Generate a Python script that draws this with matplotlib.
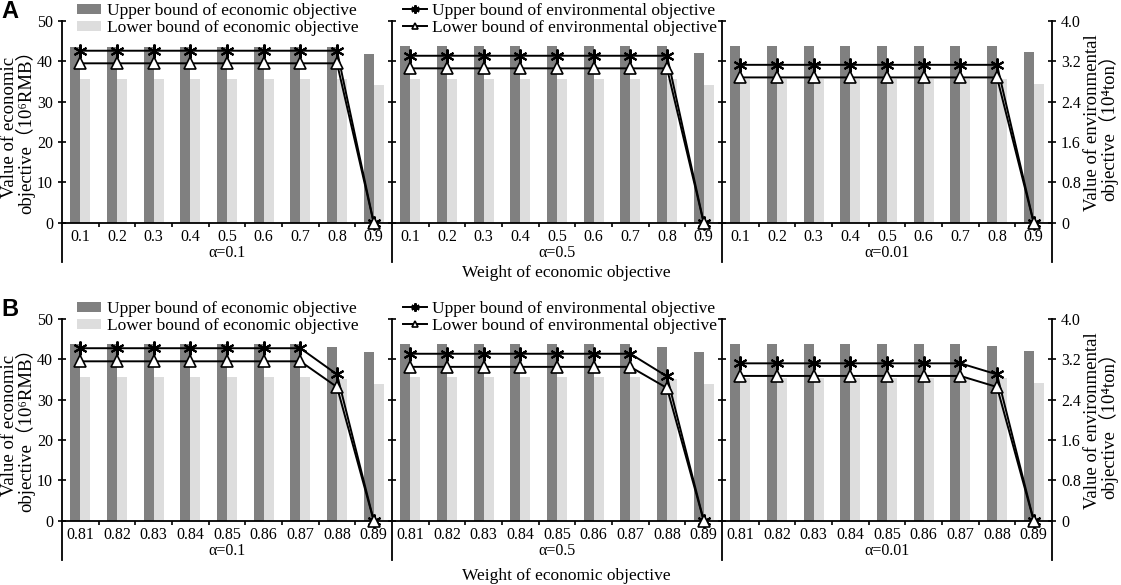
import numpy as np
import matplotlib
matplotlib.use("Agg")
import matplotlib.pyplot as plt
from matplotlib.ticker import FixedLocator

plt.rcParams['font.family'] = ['Liberation Serif', 'DejaVu Serif', 'Noto Sans CJK SC']

weights_A = ['0.1', '0.2', '0.3', '0.4', '0.5', '0.6', '0.7', '0.8', '0.9']
weights_B = ['0.81', '0.82', '0.83', '0.84', '0.85', '0.86', '0.87', '0.88', '0.89']
alphas = ['α=0.1', 'α=0.5', 'α=0.01']

# economic objective (10^6 RMB), left axis
econ_up_A = [
    [43.6, 43.6, 43.6, 43.6, 43.6, 43.6, 43.6, 43.6, 41.9],
    [43.7, 43.7, 43.7, 43.7, 43.7, 43.7, 43.7, 43.7, 42.0],
    [43.8, 43.8, 43.8, 43.8, 43.8, 43.8, 43.8, 43.8, 42.4],
]
econ_lo_A = [
    [35.6, 35.6, 35.6, 35.6, 35.6, 35.6, 35.6, 35.6, 34.0],
    [35.6, 35.6, 35.6, 35.6, 35.6, 35.6, 35.6, 35.6, 34.0],
    [35.5, 35.5, 35.5, 35.5, 35.5, 35.5, 35.5, 35.5, 34.3],
]
# environmental objective (10^4 ton), right axis
env_up_A = [
    [3.41, 3.41, 3.41, 3.41, 3.41, 3.41, 3.41, 3.41, 0.0],
    [3.31, 3.31, 3.31, 3.31, 3.31, 3.31, 3.31, 3.31, 0.0],
    [3.13, 3.13, 3.13, 3.13, 3.13, 3.13, 3.13, 3.13, 0.0],
]
env_lo_A = [
    [3.16, 3.16, 3.16, 3.16, 3.16, 3.16, 3.16, 3.16, 0.0],
    [3.06, 3.06, 3.06, 3.06, 3.06, 3.06, 3.06, 3.06, 0.0],
    [2.88, 2.88, 2.88, 2.88, 2.88, 2.88, 2.88, 2.88, 0.0],
]

econ_up_B = [
    [43.7, 43.7, 43.7, 43.7, 43.7, 43.7, 43.7, 43.1, 41.9],
    [43.7, 43.7, 43.7, 43.7, 43.7, 43.7, 43.7, 43.1, 41.8],
    [43.8, 43.8, 43.8, 43.8, 43.8, 43.8, 43.8, 43.4, 42.1],
]
econ_lo_B = [
    [35.6, 35.6, 35.6, 35.6, 35.6, 35.6, 35.6, 35.0, 33.9],
    [35.5, 35.5, 35.5, 35.5, 35.5, 35.5, 35.5, 35.0, 33.9],
    [35.4, 35.4, 35.4, 35.4, 35.4, 35.4, 35.4, 35.3, 34.0],
]
env_up_B = [
    [3.42, 3.42, 3.42, 3.42, 3.42, 3.42, 3.42, 2.90, 0.0],
    [3.31, 3.31, 3.31, 3.31, 3.31, 3.31, 3.31, 2.86, 0.0],
    [3.12, 3.12, 3.12, 3.12, 3.12, 3.12, 3.12, 2.90, 0.0],
]
env_lo_B = [
    [3.16, 3.16, 3.16, 3.16, 3.16, 3.16, 3.16, 2.65, 0.0],
    [3.05, 3.05, 3.05, 3.05, 3.05, 3.05, 3.05, 2.63, 0.0],
    [2.87, 2.87, 2.87, 2.87, 2.87, 2.87, 2.87, 2.65, 0.0],
]

econ_ticks = [0, 10, 20, 30, 40, 50]
env_ticks = [0, 0.8, 1.6, 2.4, 3.2, 4.0]
env_ticklabels = ['0', '0.8', '1.6', '2.4', '3.2', '4.0']

DARK = '#808080'
LIGHT = '#dddddd'
W, H = 1121, 585
fig = plt.figure(figsize=(W / 100, H / 100), dpi=100)

x_left, panel_w = 62, 330
bw = 0.27
ymin = -9.8


def draw_row(top_px, bottom_px, labels, eu, el, vu, vl, tag):
    axes = []
    for k in range(3):
        ax = fig.add_axes([(x_left + k * panel_w) / W, 1 - bottom_px / H,
                           panel_w / W, (bottom_px - top_px) / H])
        tw = ax.twinx()
        x = np.arange(len(labels))
        ax.bar(x - bw / 2, eu[k], bw, color=DARK, label='Upper bound of economic objective')
        ax.bar(x + bw / 2, el[k], bw, color=LIGHT, label='Lower bound of economic objective')
        tw.plot(x, vu[k], color='black', lw=1.4, marker=(6, 2, 0), ms=10, mew=1.5,
                label='Upper bound of environmental objective')
        tw.plot(x, vl[k], color='black', lw=1.4, marker='^', ms=8, mfc='white', mec='black',
                mew=1.2, label='Lower bound of environmental objective')
        ax.set_xlim(-0.5, len(labels) - 0.5)
        ax.set_ylim(ymin, 50)
        tw.set_ylim(ymin / 50 * 4.0, 4.0)
        for s in ['top', 'right']:
            ax.spines[s].set_visible(False)
        ax.spines['bottom'].set_position(('data', 0))
        ax.spines['left'].set_linewidth(1.3)
        ax.spines['bottom'].set_linewidth(1.3)
        ax.set_yticks(econ_ticks)
        ax.tick_params(axis='y', direction='inout', length=6, width=1.2, labelsize=11.5)
        if k > 0:
            ax.set_yticklabels([])
        ax.set_xticks(x)
        ax.set_xticklabels(labels)
        ax.xaxis.set_minor_locator(FixedLocator(x[:-1] + 0.5))
        ax.tick_params(axis='x', which='major', length=0, labelsize=11.5, pad=5)
        ax.tick_params(axis='x', which='minor', direction='out', length=3, width=1.2)
        ax.set_xlabel(alphas[k], fontsize=11.5, labelpad=0)
        for s in ['top', 'left', 'bottom']:
            tw.spines[s].set_visible(False)
        if k < 2:
            tw.spines['right'].set_visible(False)
            tw.set_yticks([])
        else:
            tw.spines['right'].set_linewidth(1.3)
            tw.set_yticks(env_ticks)
            tw.set_yticklabels(env_ticklabels)
            tw.tick_params(axis='y', direction='inout', length=6, width=1.2, labelsize=11.5)
        axes.append((ax, tw))

    shift = top_px - 21
    fig.text(18 / W, 1 - (127 + shift) / H, 'Value of economic\nobjective（10⁶RMB）',
             rotation=90, ha='center', va='center', multialignment='center',
             fontsize=13.5, linespacing=0.82)
    fig.text(1101 / W, 1 - (123 + shift) / H, 'Value of environmental\nobjective（10⁴ton）',
             rotation=90, ha='center', va='center', multialignment='center',
             fontsize=13.5, linespacing=0.82)

    a0 = axes[0][0]
    fig.legend(handles=a0.get_legend_handles_labels()[0], loc='upper left',
               bbox_to_anchor=(77 / W, 1 - (shift + 3) / H), frameon=False,
               fontsize=12.5, borderpad=0, borderaxespad=0, labelspacing=0.05,
               handlelength=1.4, handleheight=0.5, handletextpad=0.35)
    t0 = axes[0][1]
    fig.legend(handles=t0.get_legend_handles_labels()[0], loc='upper left',
               bbox_to_anchor=(403 / W, 1 - (shift + 3) / H), frameon=False,
               fontsize=12.5, borderpad=0, borderaxespad=0, labelspacing=0.05,
               handlelength=1.4, handletextpad=0.25, markerscale=0.6)
    fig.text(1 / W, 1 - (shift + 12) / H, tag, fontsize=17, fontweight='bold',
             family='Liberation Sans', va='center', ha='left')


draw_row(21, 262, weights_A, econ_up_A, econ_lo_A, env_up_A, env_lo_A, 'A')
fig.text(566 / W, 1 - 273 / H, 'Weight of economic objective', fontsize=12.5,
         ha='center', va='center')
draw_row(319, 560, weights_B, econ_up_B, econ_lo_B, env_up_B, env_lo_B, 'B')
fig.text(566 / W, 1 - 576 / H, 'Weight of economic objective', fontsize=12.5,
         ha='center', va='center')

fig.savefig('out.png', dpi=100)
